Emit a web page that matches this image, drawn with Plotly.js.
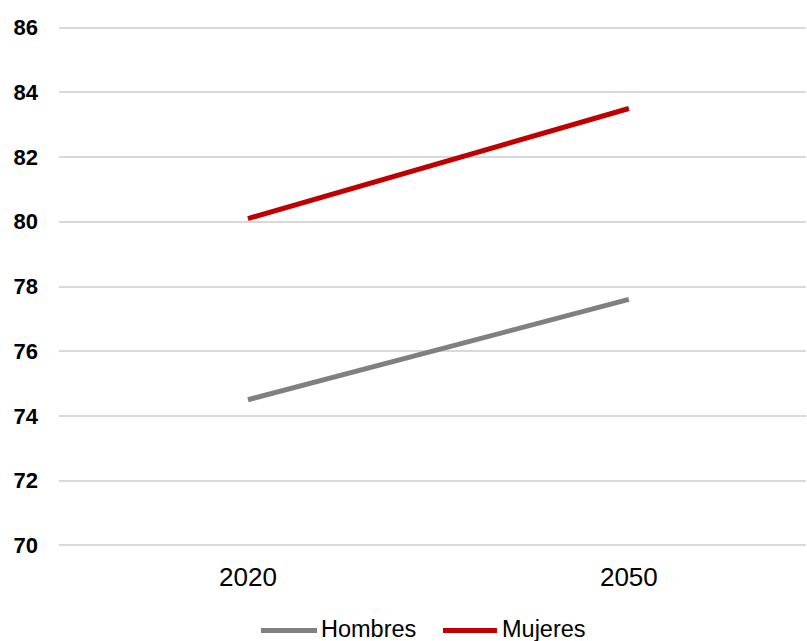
<!DOCTYPE html>
<html>
<head>
<meta charset="utf-8">
<script src="https://cdn.plot.ly/plotly-3.0.1.min.js"></script>
<style>html,body{margin:0;padding:0;background:#fff;}#chart{width:807px;height:641px;}</style>
</head>
<body>
<div id="chart"></div>
<script>
const years = ["2020", "2050"];
const hombres = [74.5, 77.6];
const mujeres = [80.1, 83.5];
const seriesNames = ["Hombres", "Mujeres"];
const seriesColors = ["#808080", "#C00000"];
const yTicks = [70, 72, 74, 76, 78, 80, 82, 84, 86];

const seriesValues = [hombres, mujeres];
const traces = seriesNames.map((n, i) => ({
  x: years, y: seriesValues[i], name: n, type: "scatter", mode: "lines",
  line: {color: seriesColors[i], width: 5}, showlegend: false
}));

// custom legend (longer line samples, as in the reference)
const legendLineX = [[0.2704, 0.3454], [0.514, 0.5863]];
const legendTextX = [0.3507, 0.593];
const legendLineY = -0.1603;
const legendTextY = -0.158;
const shapes = seriesNames.map((n, i) => ({
  type: "line", xref: "paper", yref: "paper",
  x0: legendLineX[i][0], x1: legendLineX[i][1], y0: legendLineY, y1: legendLineY,
  line: {color: seriesColors[i], width: 5}
}));
const annotations = seriesNames.map((n, i) => ({
  text: n, xref: "paper", yref: "paper", x: legendTextX[i], y: legendTextY,
  xanchor: "left", yanchor: "middle", showarrow: false, xshift: -2,
  font: {size: 23.5, color: "#000"}
}));

const layout = {
  width: 807, height: 641,
  margin: {l: 59, r: 1, t: 26.4, b: 94.4, autoexpand: false},
  paper_bgcolor: "#fff", plot_bgcolor: "#fff",
  font: {family: "Liberation Sans, Arial, sans-serif", color: "#000"},
  xaxis: {type: "category", range: [-0.496, 1.465], showgrid: false, zeroline: false,
          showline: false, tickfont: {size: 26, color: "#000"}, ticklabelstandoff: 12, fixedrange: true},
  yaxis: {range: [69.95, 86.05], tickvals: yTicks, ticktext: yTicks.map(String),
          showgrid: true, gridcolor: "#D9D9D9", gridwidth: 2, zeroline: false, showline: false,
          tickfont: {size: 22, color: "#000", weight: "bold"}, ticklabelstandoff: 20, fixedrange: true},
  shapes: shapes,
  annotations: annotations,
  showlegend: false
};

Plotly.newPlot("chart", traces, layout, {displayModeBar: false, staticPlot: true});
</script>
</body>
</html>
